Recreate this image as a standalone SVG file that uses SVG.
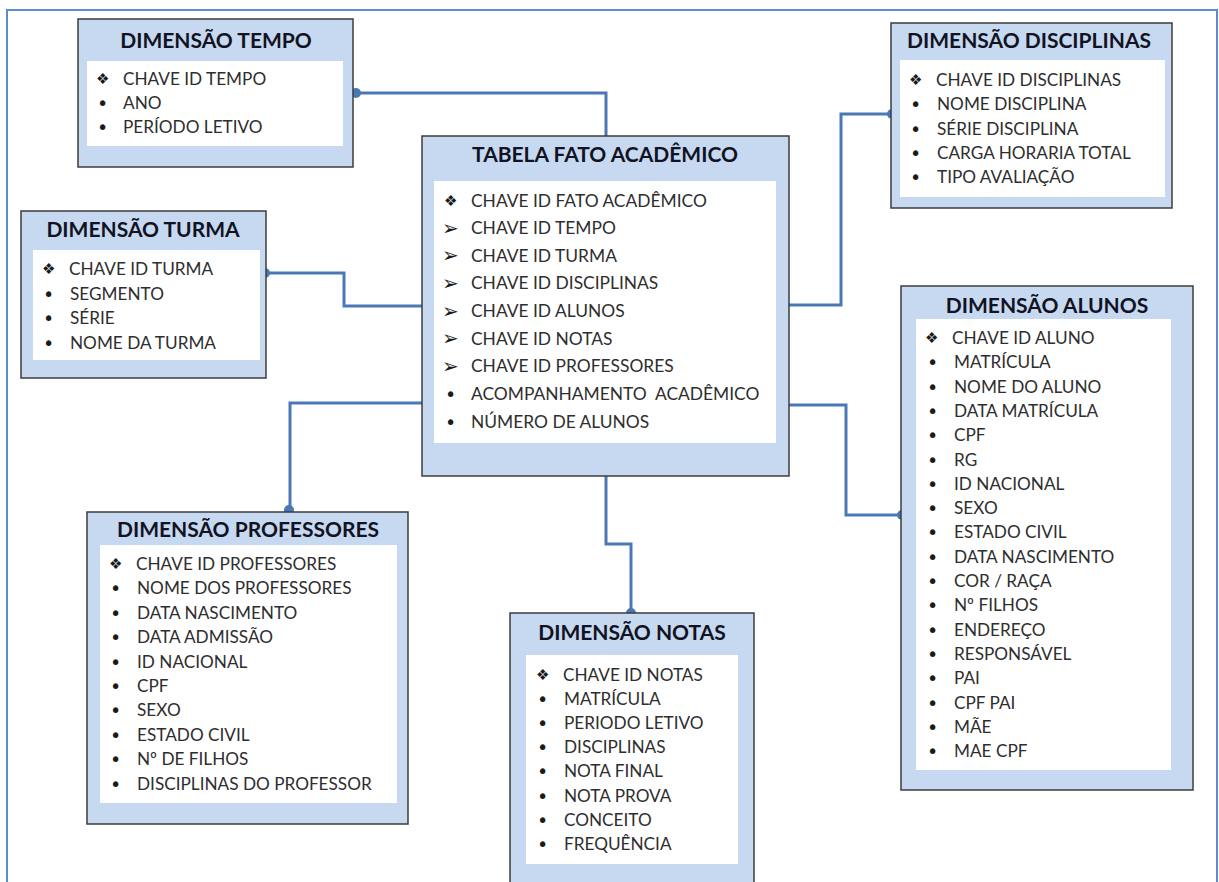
<svg xmlns="http://www.w3.org/2000/svg" width="1219" height="882" viewBox="0 0 1219 882">
  <style>
    .frame { fill: #ffffff; stroke: #5b8bd0; stroke-width: 2; }
    .box { fill: #c6d9f0; stroke: #3c3c3c; stroke-width: 1.5; }
    .inner { fill: #ffffff; }
    .title { font-family: Lato, "Liberation Sans", sans-serif; font-weight: bold; font-size: 21px; fill: #111322; text-anchor: middle; }
    .item { font-family: Lato, "Liberation Sans", sans-serif; font-size: 17.2px; fill: #2e2e2e; }
    .fact .item { font-size: 17.4px; }
    .sym { font-family: "DejaVu Sans", sans-serif; font-size: 15px; fill: #1a1a1a; }
    .bul { font-family: "DejaVu Sans", sans-serif; font-size: 19px; fill: #1a1a1a; }
    .arr { font-family: "DejaVu Sans", sans-serif; font-size: 20px; fill: #1a1a1a; }
    .link { fill: none; stroke: #4a78b4; stroke-width: 3; }
    .dot { fill: #4a78b4; }
  </style>

  <rect class="frame" x="7" y="10" width="1210" height="900"/>

  <!-- connectors between the fact table and the dimensions -->
  <g id="connectors">
    <path class="link" d="M356,93 H606 V136"/>
    <circle class="dot" cx="356" cy="93" r="5"/>
    <path class="link" d="M265,273 H344 V306 H422"/>
    <circle class="dot" cx="265" cy="273" r="5"/>
    <path class="link" d="M422,403 H290 V511"/>
    <circle class="dot" cx="289" cy="510" r="5"/>
    <path class="link" d="M606,476 V544 H631 V613"/>
    <circle class="dot" cx="631" cy="613" r="5"/>
    <path class="link" d="M789,405 H846 V515 H902"/>
    <circle class="dot" cx="902" cy="515" r="5"/>
    <path class="link" d="M789,305 H841 V114 H892"/>
    <circle class="dot" cx="892" cy="114" r="5"/>
  </g>

  <!-- time dimension -->
  <g id="dim-tempo">
    <rect class="box" x="78" y="19" width="275" height="148"/>
    <rect class="inner" x="87" y="61" width="256" height="85"/>
    <text class="title" x="216" y="48">DIMENSÃO TEMPO</text>
    <text class="sym" x="96" y="84">❖</text>
    <text class="item" x="123" y="85">CHAVE ID TEMPO</text>
    <text class="bul" x="97" y="110">•</text>
    <text class="item" x="123" y="109">ANO</text>
    <text class="bul" x="97" y="134">•</text>
    <text class="item" x="123" y="133">PERÍODO LETIVO</text>
  </g>

  <!-- class dimension -->
  <g id="dim-turma">
    <rect class="box" x="21" y="211" width="245" height="167"/>
    <rect class="inner" x="33" y="250" width="227" height="110"/>
    <text class="title" x="143" y="237">DIMENSÃO TURMA</text>
    <text class="sym" x="42" y="274">❖</text>
    <text class="item" x="69" y="275">CHAVE ID TURMA</text>
    <text class="bul" x="43" y="301">•</text>
    <text class="item" x="70" y="300">SEGMENTO</text>
    <text class="bul" x="43" y="325">•</text>
    <text class="item" x="70" y="324">SÉRIE</text>
    <text class="bul" x="43" y="350">•</text>
    <text class="item" x="70" y="349">NOME DA TURMA</text>
  </g>

  <!-- fact table -->
  <g id="fato-academico" class="fact">
    <rect class="box" x="422" y="136" width="367" height="340"/>
    <rect class="inner" x="434" y="181" width="342" height="262"/>
    <text class="title" x="605" y="162">TABELA FATO ACADÊMICO</text>
    <text class="sym" x="444" y="206">❖</text>
    <text class="item" x="471" y="206.5">CHAVE ID FATO ACADÊMICO</text>
    <text class="arr" x="442" y="234.5">➢</text>
    <text class="item" x="471" y="234">CHAVE ID TEMPO</text>
    <text class="arr" x="442" y="262">➢</text>
    <text class="item" x="471" y="261.5">CHAVE ID TURMA</text>
    <text class="arr" x="442" y="289.5">➢</text>
    <text class="item" x="471" y="289">CHAVE ID DISCIPLINAS</text>
    <text class="arr" x="442" y="317.5">➢</text>
    <text class="item" x="471" y="317">CHAVE ID ALUNOS</text>
    <text class="arr" x="442" y="345">➢</text>
    <text class="item" x="471" y="344.5">CHAVE ID NOTAS</text>
    <text class="arr" x="442" y="372.5">➢</text>
    <text class="item" x="471" y="372">CHAVE ID PROFESSORES</text>
    <text class="bul" x="445" y="401">•</text>
    <text class="item" x="471" y="400" xml:space="preserve">ACOMPANHAMENTO  ACADÊMICO</text>
    <text class="bul" x="445" y="429">•</text>
    <text class="item" x="471" y="428">NÚMERO DE ALUNOS</text>
  </g>

  <!-- subjects dimension -->
  <g id="dim-disciplinas">
    <rect class="box" x="891" y="23" width="281" height="185"/>
    <rect class="inner" x="900" y="60" width="265" height="137"/>
    <text class="title" x="1029" y="48">DIMENSÃO DISCIPLINAS</text>
    <text class="sym" x="909" y="85">❖</text>
    <text class="item" x="936" y="86">CHAVE ID DISCIPLINAS</text>
    <text class="bul" x="910" y="111">•</text>
    <text class="item" x="937" y="110">NOME DISCIPLINA</text>
    <text class="bul" x="910" y="135.5">•</text>
    <text class="item" x="937" y="134.5">SÉRIE DISCIPLINA</text>
    <text class="bul" x="910" y="160">•</text>
    <text class="item" x="937" y="159">CARGA HORARIA TOTAL</text>
    <text class="bul" x="910" y="184">•</text>
    <text class="item" x="937" y="183">TIPO AVALIAÇÃO</text>
  </g>

  <!-- students dimension -->
  <g id="dim-alunos">
    <rect class="box" x="901" y="286" width="292" height="504"/>
    <rect class="inner" x="916" y="319" width="255" height="451"/>
    <text class="title" x="1047" y="313">DIMENSÃO ALUNOS</text>
    <text class="sym" x="925" y="343">❖</text>
    <text class="item" x="952" y="344">CHAVE ID ALUNO</text>
    <text class="bul" x="927" y="369.3">•</text>
    <text class="item" x="954" y="368.3">MATRÍCULA</text>
    <text class="bul" x="927" y="393.6">•</text>
    <text class="item" x="954" y="392.6">NOME DO ALUNO</text>
    <text class="bul" x="927" y="417.9">•</text>
    <text class="item" x="954" y="416.9">DATA MATRÍCULA</text>
    <text class="bul" x="927" y="442.2">•</text>
    <text class="item" x="954" y="441.2">CPF</text>
    <text class="bul" x="927" y="466.5">•</text>
    <text class="item" x="954" y="465.5">RG</text>
    <text class="bul" x="927" y="490.8">•</text>
    <text class="item" x="954" y="489.8">ID NACIONAL</text>
    <text class="bul" x="927" y="515.1">•</text>
    <text class="item" x="954" y="514.1">SEXO</text>
    <text class="bul" x="927" y="539.4">•</text>
    <text class="item" x="954" y="538.4">ESTADO CIVIL</text>
    <text class="bul" x="927" y="563.7">•</text>
    <text class="item" x="954" y="562.7">DATA NASCIMENTO</text>
    <text class="bul" x="927" y="588">•</text>
    <text class="item" x="954" y="587">COR / RAÇA</text>
    <text class="bul" x="927" y="612.3">•</text>
    <text class="item" x="954" y="611.3">Nº FILHOS</text>
    <text class="bul" x="927" y="636.6">•</text>
    <text class="item" x="954" y="635.6">ENDEREÇO</text>
    <text class="bul" x="927" y="660.9">•</text>
    <text class="item" x="954" y="659.9">RESPONSÁVEL</text>
    <text class="bul" x="927" y="685.2">•</text>
    <text class="item" x="954" y="684.2">PAI</text>
    <text class="bul" x="927" y="709.5">•</text>
    <text class="item" x="954" y="708.5">CPF PAI</text>
    <text class="bul" x="927" y="733.8">•</text>
    <text class="item" x="954" y="732.8">MÃE</text>
    <text class="bul" x="927" y="758">•</text>
    <text class="item" x="954" y="757">MAE CPF</text>
  </g>

  <!-- teachers dimension -->
  <g id="dim-professores">
    <rect class="box" x="87" y="512" width="321" height="312"/>
    <rect class="inner" x="100" y="545" width="297" height="258"/>
    <text class="title" x="248" y="537">DIMENSÃO PROFESSORES</text>
    <text class="sym" x="109" y="569">❖</text>
    <text class="item" x="136" y="570">CHAVE ID PROFESSORES</text>
    <text class="bul" x="110" y="595.4">•</text>
    <text class="item" x="137" y="594.4">NOME DOS PROFESSORES</text>
    <text class="bul" x="110" y="619.8">•</text>
    <text class="item" x="137" y="618.8">DATA NASCIMENTO</text>
    <text class="bul" x="110" y="644.2">•</text>
    <text class="item" x="137" y="643.2">DATA ADMISSÃO</text>
    <text class="bul" x="110" y="668.6">•</text>
    <text class="item" x="137" y="667.6">ID NACIONAL</text>
    <text class="bul" x="110" y="693">•</text>
    <text class="item" x="137" y="692">CPF</text>
    <text class="bul" x="110" y="717.4">•</text>
    <text class="item" x="137" y="716.4">SEXO</text>
    <text class="bul" x="110" y="741.8">•</text>
    <text class="item" x="137" y="740.8">ESTADO CIVIL</text>
    <text class="bul" x="110" y="766.2">•</text>
    <text class="item" x="137" y="765.2">Nº DE FILHOS</text>
    <text class="bul" x="110" y="791">•</text>
    <text class="item" x="137" y="790">DISCIPLINAS DO PROFESSOR</text>
  </g>

  <!-- grades dimension -->
  <g id="dim-notas">
    <rect class="box" x="510" y="613" width="244" height="290"/>
    <rect class="inner" x="526" y="655" width="212" height="209"/>
    <text class="title" x="632" y="640">DIMENSÃO NOTAS</text>
    <text class="sym" x="536" y="680">❖</text>
    <text class="item" x="563" y="681">CHAVE ID NOTAS</text>
    <text class="bul" x="537" y="706.1">•</text>
    <text class="item" x="564" y="705.1">MATRÍCULA</text>
    <text class="bul" x="537" y="730.2">•</text>
    <text class="item" x="564" y="729.2">PERIODO LETIVO</text>
    <text class="bul" x="537" y="754.3">•</text>
    <text class="item" x="564" y="753.3">DISCIPLINAS</text>
    <text class="bul" x="537" y="778.4">•</text>
    <text class="item" x="564" y="777.4">NOTA FINAL</text>
    <text class="bul" x="537" y="802.5">•</text>
    <text class="item" x="564" y="801.5">NOTA PROVA</text>
    <text class="bul" x="537" y="826.6">•</text>
    <text class="item" x="564" y="825.6">CONCEITO</text>
    <text class="bul" x="537" y="851">•</text>
    <text class="item" x="564" y="850">FREQUÊNCIA</text>
  </g>
</svg>
